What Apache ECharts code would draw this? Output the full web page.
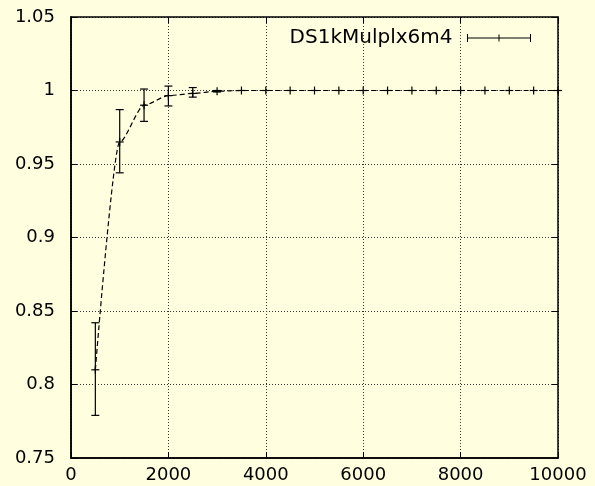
<!DOCTYPE html>
<html>
<head>
<meta charset="utf-8">
<script src="https://cdn.jsdelivr.net/npm/echarts@6/dist/echarts.min.js"></script>
<style>
  html, body { margin: 0; padding: 0; background: #ffffe0; }
  #chart { width: 595px; height: 486px; }
</style>
</head>
<body>
<div id="chart"></div>
<script>
// values
const seriesName = 'DS1kMulplx6m4'
const xs = [500, 1000, 1500, 2000, 2500, 3000, 3500, 4000, 4500, 5000, 5500, 6000, 6500, 7000, 7500, 8000, 8500, 9000, 9500, 10000]
const ys = [0.810, 0.965, 0.990, 0.9965, 0.998, 0.9995, 1, 1, 1, 1, 1, 1, 1, 1, 1, 1, 1, 1, 1, 1]
const yLow = [0.779, 0.944, 0.979, 0.9895, 0.9955, 0.999, 1, 1, 1, 1, 1, 1, 1, 1, 1, 1, 1, 1, 1, 1]
const yHigh = [0.842, 0.987, 1.001, 1.003, 1.002, 1.0, 1, 1, 1, 1, 1, 1, 1, 1, 1, 1, 1, 1, 1, 1]

const font = 'DejaVu Sans'
const chart = echarts.init(document.getElementById('chart'))

const lineData = xs.map((x, i) => [x, ys[i]])
const errData = xs.map((x, i) => [x, yLow[i], yHigh[i], ys[i]])

// error bar + cross marker
const renderErr = (params, api) => {
  const x = api.value(0)
  const lo = api.coord([x, api.value(1)])
  const hi = api.coord([x, api.value(2)])
  const mid = api.coord([x, api.value(3)])
  const st = { stroke: '#000', lineWidth: 1.2 }
  const kids = [
    { type: 'line', shape: { x1: mid[0] - 4, y1: mid[1], x2: mid[0] + 4, y2: mid[1] }, style: st },
    { type: 'line', shape: { x1: mid[0], y1: mid[1] - 4, x2: mid[0], y2: mid[1] + 4 }, style: st }
  ]
  if (lo[1] - hi[1] > 1) {
    kids.push(
      { type: 'line', shape: { x1: lo[0], y1: lo[1], x2: hi[0], y2: hi[1] }, style: st },
      { type: 'line', shape: { x1: lo[0] - 4, y1: lo[1], x2: lo[0] + 4, y2: lo[1] }, style: st },
      { type: 'line', shape: { x1: hi[0] - 4, y1: hi[1], x2: hi[0] + 4, y2: hi[1] }, style: st }
    )
  }
  return { type: 'group', children: kids }
}

const tickStyle = { show: true, inside: true, length: 6, lineStyle: { color: '#000', width: 1 } }
const axLine = { show: true, onZero: false, lineStyle: { color: '#000', width: 1.5 } }
const gridLine = { show: true, lineStyle: { color: '#333', type: [1, 2], width: 1 } }

// axis helper: pos = bottom/top/left/right
const xAx = (pos, labels) => ({
  type: 'value', min: 0, max: 10000, interval: 2000, position: pos, offset: 0,
  axisLine: axLine,
  axisTick: labels ? { show: false } : tickStyle,
  axisLabel: labels
    ? { fontFamily: font, fontSize: 18, color: '#000', margin: 8, formatter: v => String(v) }
    : { show: false },
  splitLine: labels ? gridLine : { show: false }
})
const yAx = (pos, labels) => ({
  type: 'value', min: 0.75, max: 1.05, interval: 0.05, position: pos, offset: 0,
  axisLine: axLine,
  axisTick: labels ? { show: false } : tickStyle,
  axisLabel: labels
    ? { fontFamily: font, fontSize: 18, color: '#000', margin: 16 }
    : { show: false },
  splitLine: labels ? gridLine : { show: false }
})

const option = {
  backgroundColor: '#ffffe0',
  animation: false,
  grid: { left: 71, top: 17, right: 37, bottom: 28, containLabel: false },
  legend: {
    data: [{ name: seriesName, icon: 'path://M0,4L63,4M0,0L0,8M63,0L63,8M31.5,0.5L31.5,7.5' }],
    right: 59,
    top: 23,
    align: 'right',
    itemWidth: 63,
    itemHeight: 8,
    itemStyle: { color: 'transparent', borderColor: '#000', borderWidth: 1 },
    textStyle: { fontFamily: font, fontSize: 20, color: '#000', padding: [0, 10, 0, 0] }
  },
  xAxis: [xAx('bottom', true), xAx('top', false), xAx('bottom', false)],
  yAxis: [yAx('left', true), yAx('right', false), yAx('left', false)],
  series: [
    {
      name: seriesName,
      type: 'line',
      data: lineData,
      smooth: 0.25,
      smoothMonotone: 'x',
      symbol: 'none',
      lineStyle: { color: '#000', width: 1.2, type: [5, 3] },
      itemStyle: { color: '#000' }
    },
    {
      type: 'custom',
      renderItem: renderErr,
      data: errData,
      clip: false,
      encode: { x: 0, y: [1, 2, 3] }
    },
    // empty series so the tick-only axes get drawn
    { type: 'line', xAxisIndex: 1, yAxisIndex: 1, data: [], symbol: 'none' },
    { type: 'line', xAxisIndex: 2, yAxisIndex: 2, data: [], symbol: 'none' }
  ]
}

chart.setOption(option)
</script>
</body>
</html>
